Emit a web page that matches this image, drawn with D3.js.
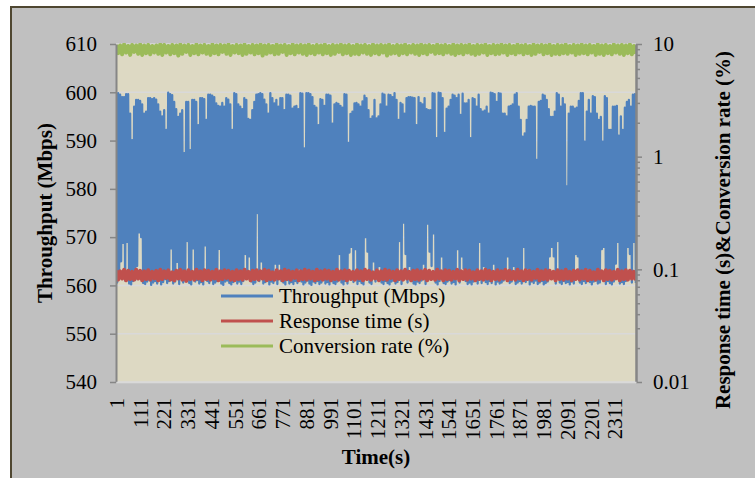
<!DOCTYPE html>
<html>
<head>
<meta charset="utf-8">
<script src="https://cdn.jsdelivr.net/npm/d3@7"></script>
<style>
body { margin: 0; background: #fff; }
svg { display: block; font-family: "Liberation Serif", "Times New Roman", serif; }
</style>
</head>
<body>
<svg id="chart" width="755" height="478"></svg>
<script>
// number of one-second samples on the category axis
var sampleCount = 2410;

var timeTicks = [1, 111, 221, 331, 441, 551, 661, 771, 881, 991, 1101, 1211, 1321,
                 1431, 1541, 1651, 1761, 1871, 1981, 2091, 2201, 2311];
var throughputTicks = [540, 550, 560, 570, 580, 590, 600, 610];
var rateTicks = [0.01, 0.1, 1, 10];
var legendLabels = ["Throughput (Mbps)", "Response time (s)", "Conversion rate (%)"];

// throughput: highs and lows, every ~2px of the plot
var throughputPeaks = [
  599.8,599.8,599.5,599.0,599.0,599.6,599.6,595.6,590.1,597.0,
  598.4,598.4,598.2,597.5,595.6,596.0,598.8,598.8,598.6,598.8,
  598.5,597.5,596.0,595.0,596.3,592.2,599.9,599.6,599.4,598.0,
  596.5,594.9,595.6,596.3,587.4,598.0,598.0,588.0,598.4,598.4,
  598.0,593.2,598.8,598.8,598.6,594.3,599.5,599.5,599.3,599.0,
  597.7,597.2,597.0,597.8,597.0,598.8,598.5,597.5,592.2,599.8,
  599.6,597.5,597.0,596.5,598.8,
  598.4,594.5,594.3,596.3,598.0,599.5,599.6,599.8,599.6,598.5,
  597.5,595.6,599.8,598.8,597.7,598.4,597.0,598.8,598.8,596.3,
  599.5,599.5,599.3,596.6,597.0,597.2,596.5,599.8,599.7,588.4,
  599.8,599.8,599.6,599.0,597.2,596.8,593.2,598.6,598.4,597.2,
  599.5,599.5,599.3,593.5,597.5,597.8,597.6,597.2,596.8,599.6,
  599.5,589.5,595.5,596.0,597.7,597.8,597.5,597.0,598.1,599.3,
  598.8,596.3,594.5,595.0,598.4,
  594.6,595.0,597.5,599.7,599.5,597.0,599.5,599.4,599.0,599.8,
  598.4,594.3,597.8,597.5,595.6,598.8,599.0,599.0,598.9,598.8,
  593.2,599.0,597.8,597.5,598.8,596.5,596.3,596.3,599.8,599.7,
  590.5,599.9,599.8,598.8,591.6,596.6,597.0,598.4,599.5,599.3,
  598.8,599.5,595.3,599.7,597.7,597.7,598.4,590.5,598.8,598.6,
  597.0,599.5,596.5,596.0,596.2,597.0,595.6,599.9,599.8,599.6,
  598.0,599.8,599.7,595.6,595.6,
  595.0,597.0,597.2,597.5,599.5,599.8,597.0,594.3,590.8,591.5,
  594.3,597.0,597.2,597.0,597.0,586.0,598.0,598.2,599.5,599.3,
  598.4,596.5,594.9,594.9,596.0,599.8,599.5,597.0,598.8,597.5,
  580.5,595.6,597.0,597.0,596.6,596.8,598.2,599.8,599.8,589.8,
  596.0,598.4,595.6,599.2,599.0,595.6,594.3,594.9,589.8,599.2,
  598.8,592.2,592.2,597.0,597.0,597.2,591.0,595.0,592.2,596.8,
  598.0,598.4,597.0,599.5,599.6
];
var throughputTroughs = [
  560.6,561.8,565.0,568.8,561.0,569.0,560.4,560.2,560.9,561.1,
  564.0,571.0,570.0,560.5,560.3,560.8,561.2,560.1,560.6,560.9,
  560.4,561.0,560.2,560.7,561.3,560.5,560.9,567.7,560.4,560.8,
  564.9,560.3,563.5,560.6,561.0,569.2,560.5,560.2,567.7,560.8,
  561.1,560.4,560.7,560.2,568.3,560.9,560.5,561.2,560.3,560.6,
  560.9,567.6,560.4,560.1,560.8,561.0,560.5,560.2,560.7,561.1,
  560.4,560.8,560.3,560.9,566.5,
  562.0,566.0,560.8,560.3,560.6,575.0,560.9,565.0,560.4,560.7,
  561.0,560.2,560.8,560.5,564.5,560.3,564.5,560.9,560.6,560.2,
  561.1,560.4,560.7,560.3,560.9,560.5,563.5,560.8,560.2,560.6,
  561.0,560.4,560.1,560.8,560.5,560.9,560.3,560.6,561.1,560.4,
  560.7,560.2,560.9,560.5,560.3,560.8,566.5,560.6,560.2,560.9,
  560.4,566.8,568.0,560.7,567.5,560.3,560.9,560.5,560.2,570.0,
  567.0,560.6,560.3,565.0,560.8,
  563.5,564.0,560.6,560.3,560.9,560.5,560.2,560.8,561.0,560.4,
  560.7,569.2,560.3,573.0,566.5,560.6,564.0,560.9,560.4,560.2,
  560.8,560.5,561.0,564.5,560.3,572.8,567.0,564.0,570.8,560.6,
  560.2,560.9,566.0,560.5,560.3,560.8,561.1,560.4,560.7,560.2,
  567.5,560.6,566.0,563.5,560.9,560.3,560.6,560.2,560.8,561.0,
  560.4,569.0,560.5,564.0,560.7,560.3,560.9,560.5,564.5,560.2,
  560.8,560.4,560.6,561.0,563.5,
  566.0,560.5,560.8,564.0,560.3,560.6,560.9,560.4,568.0,560.7,
  563.5,560.2,560.8,560.5,561.0,560.3,560.6,560.9,560.2,560.5,
  560.8,566.0,568.0,566.0,560.4,569.2,560.6,560.3,560.9,560.5,
  560.7,560.2,560.8,560.4,566.5,566.0,560.6,560.3,560.9,560.5,
  563.5,560.7,560.2,560.8,561.0,560.4,560.6,567.5,568.0,560.3,
  560.9,560.5,560.2,560.8,564.5,569.0,560.4,560.7,560.3,560.9,
  568.0,566.5,560.6,569.0,560.5
];

// response time (s), alternating highs and lows
var responseTime = [
  .098,.081,.096,.083,.099,.080,.097,.082,.095,.081,.099,.083,.097,.080,.096,.082,.098,.081,.095,.083,
  .097,.080,.099,.082,.096,.084,.098,.081,.094,.080,.097,.083,.099,.081,.096,.079,.098,.082,.095,.081,
  .099,.083,.096,.080,.098,.082,.097,.081,.095,.083,.099,.080,.096,.082,.098,.084,.097,.081,.095,.080,
  .098,.082,.096,.081,.099,.083,.095,.080,.097,.082,.098,.081,.096,.083,.099,.080,.097,.082,.094,.081,
  .098,.083,.096,.080,.099,.082,.097,.081,.095,.084,.098,.080,.096,.082,.099,.081,.097,.083,.095,.080,
  .099,.082,.096,.081,.098,.083,.097,.080,.095,.082,.099,.081,.096,.083,.098,.080,.097,.082,.095,.081,
  .098,.083,.096,.080,.099,.082,.097,.081,.094,.083,.098,.080,.096,.082,.099,.081,.097,.084,.095,.080,
  .098,.082,.096,.081,.099,.083,.095,.080,.097,.082,.098,.081,.096,.083,.099,.080,.097,.082,.095,.081,
  .099,.083,.096,.080,.098,.082,.097,.081,.095,.083,.099,.080,.096,.082,.098,.081,.097,.083,.094,.080,
  .098,.082,.096,.081,.099,.083,.097,.080,.095,.082,.098,.081,.096,.083,.099,.080,.097,.082,.095,.081,
  .099,.083,.096,.080,.098,.082,.097,.081,.095,.084,.099,.080,.096,.082,.098,.081,.097,.083,.095,.080,
  .098,.082,.096,.081,.099,.083,.095,.080,.097,.082,.098,.081,.096,.083,.099,.080,.097,.082,.094,.081,
  .099,.083,.096,.080,.098,.082,.097,.081,.095,.083,.099,.080,.096,.082,.098,.081,.097,.083,.095,.080
];

// conversion rate (%), alternating highs and lows
var conversionRate = [
  9.8,8.3,9.7,8.1,9.9,8.4,9.6,8.0,9.8,8.5,9.7,8.2,9.9,8.0,9.7,8.3,9.8,8.1,9.6,8.4,
  9.7,8.2,9.9,8.0,9.8,8.4,9.6,8.1,9.8,8.3,9.7,7.9,9.9,8.2,9.7,8.5,9.8,8.0,9.6,8.3,
  9.9,8.1,9.7,8.4,9.8,8.2,9.6,8.0,9.9,8.3,9.7,8.1,9.8,8.5,9.7,8.2,9.9,8.0,9.6,8.4,
  9.8,8.3,9.7,8.0,9.9,8.2,9.6,8.4,9.8,8.1,9.7,8.3,9.9,7.9,9.7,8.2,9.8,8.4,9.6,8.1,
  9.9,8.2,9.7,8.5,9.8,8.0,9.6,8.3,9.9,8.1,9.7,8.4,9.8,8.2,9.7,8.0,9.9,8.3,9.6,8.1,
  9.8,8.4,9.7,8.1,9.9,8.3,9.6,8.0,9.8,8.2,9.7,8.5,9.9,8.1,9.7,8.3,9.8,8.0,9.6,8.2,
  9.9,8.1,9.7,8.4,9.8,8.2,9.6,8.0,9.9,8.3,9.7,8.1,9.8,8.4,9.7,7.9,9.9,8.2,9.6,8.3,
  9.8,8.0,9.7,8.3,9.9,8.1,9.6,8.4,9.8,8.2,9.7,8.0,9.9,8.3,9.7,8.1,9.8,8.5,9.6,8.2,
  9.9,8.3,9.7,8.1,9.8,8.4,9.6,8.2,9.9,8.0,9.7,8.3,9.8,8.1,9.7,8.4,9.9,8.2,9.6,8.0,
  9.8,8.2,9.7,8.4,9.9,8.0,9.6,8.3,9.8,8.1,9.7,8.2,9.9,8.4,9.7,8.0,9.8,8.3,9.6,8.1,
  9.9,8.4,9.7,8.1,9.8,8.3,9.6,8.0,9.9,8.2,9.7,8.5,9.8,8.1,9.7,8.3,9.9,8.0,9.6,8.2,
  9.8,8.1,9.7,8.3,9.9,8.2,9.6,8.4,9.8,8.0,9.7,8.2,9.9,8.3,9.7,8.1,9.8,8.4,9.6,8.0,
  9.9,8.2,9.7,8.0,9.8,8.3,9.6,8.1,9.9,8.4,9.7,8.2,9.8,8.0,9.7,8.3,9.9,8.1,9.6,8.2
];

var colors = ["#4f81bd", "#c0504d", "#9bbb59"];

var svg = d3.select("#chart"),
    plot = {left: 116, right: 636, top: 44, bottom: 382};

// frame of the whole chart
svg.append("rect")
    .attr("x", 11).attr("y", 7)
    .attr("width", 800).attr("height", 500)
    .attr("fill", "#c0c0c0")
    .attr("stroke", "#4f4731")
    .attr("stroke-width", 2);

svg.append("rect")
    .attr("x", plot.left).attr("y", plot.top)
    .attr("width", plot.right - plot.left).attr("height", plot.bottom - plot.top)
    .attr("fill", "#ddd9c3");

var x = d3.scaleLinear().domain([0.5, sampleCount + 0.5]).range([plot.left, plot.right]);
var y = d3.scaleLinear().domain([540, 610]).range([plot.bottom, plot.top]);
var yr = d3.scaleLog().domain([0.01, 10]).range([plot.bottom, plot.top]);

// gridlines
svg.append("g")
    .selectAll("line")
    .data(throughputTicks)
    .enter().append("line")
    .attr("x1", plot.left).attr("x2", plot.right)
    .attr("y1", function(d) { return y(d); })
    .attr("y2", function(d) { return y(d); })
    .attr("stroke", "#d9d9d9")
    .attr("stroke-width", 1.5);

svg.append("clipPath").attr("id", "clip")
  .append("rect")
    .attr("x", plot.left).attr("y", plot.top - 1)
    .attr("width", plot.right - plot.left).attr("height", plot.bottom - plot.top + 1);

// sample times for a series of n values spread over the run
function timesFor(n) {
  return d3.range(n).map(function(i) { return 1 + i * (sampleCount - 1) / (n - 1); });
}

var throughput = [];
throughputPeaks.forEach(function(p, i) { throughput.push(p, throughputTroughs[i]); });

var series = [
  {values: throughput, scale: y, width: 2.3},
  {values: responseTime, scale: yr, width: 4},
  {values: conversionRate, scale: yr, width: 4}
];

var lines = svg.append("g").attr("clip-path", "url(#clip)");

series.forEach(function(s, k) {
  var t = timesFor(s.values.length);
  var line = d3.line()
      .x(function(d, i) { return x(t[i]); })
      .y(function(d) { return s.scale(d); });
  lines.append("path")
      .datum(s.values)
      .attr("fill", "none")
      .attr("stroke", colors[k])
      .attr("stroke-width", s.width)
      .attr("stroke-linejoin", "round")
      .attr("d", line);
});

// left axis
var leftAxis = svg.append("g")
    .attr("transform", "translate(" + plot.left + ",0)")
    .call(d3.axisLeft(y).tickValues(throughputTicks).tickSize(6).tickPadding(13).tickSizeOuter(0));

// right axis, with log minor ticks
var minorTicks = [];
[0.01, 0.1, 1].forEach(function(dec) {
  for (var m = 2; m <= 9; m++) minorTicks.push(dec * m);
});

svg.append("g")
    .attr("transform", "translate(" + plot.right + ",0)")
    .call(d3.axisRight(yr).tickValues(minorTicks).tickSize(4).tickFormat("").tickSizeOuter(0));

var rightAxis = svg.append("g")
    .attr("transform", "translate(" + plot.right + ",0)")
    .call(d3.axisRight(yr).tickValues(rateTicks).tickSize(6).tickPadding(11).tickSizeOuter(0)
          .tickFormat(function(d) { return String(d); }));

// bottom axis, labels turned on their side
var bottomAxis = svg.append("g")
    .attr("transform", "translate(0," + plot.bottom + ")")
    .call(d3.axisBottom(x).tickValues(timeTicks).tickSize(0).tickSizeOuter(0)
          .tickFormat(d3.format("d")));

bottomAxis.selectAll("text")
    .attr("transform", "rotate(-90)")
    .attr("x", -16)
    .attr("y", 0)
    .attr("dy", "0.35em")
    .attr("text-anchor", "end");

[leftAxis, rightAxis, bottomAxis].forEach(function(a) {
  a.selectAll("text")
      .attr("fill", "#000")
      .style("font-family", "Liberation Serif")
      .style("font-size", "21px");
});
svg.selectAll(".domain").attr("stroke", "#868686").attr("stroke-width", 2);
svg.selectAll(".tick line").attr("stroke", "#868686").attr("stroke-width", 1.5);
bottomAxis.select(".domain").attr("stroke", "#d9d9d9").attr("stroke-width", 1.5);

// axis titles
svg.append("text")
    .attr("transform", "translate(52,213) rotate(-90)")
    .attr("text-anchor", "middle")
    .style("font-size", "21px").style("font-weight", "bold")
    .text("Throughput (Mbps)");

svg.append("text")
    .attr("transform", "translate(730,230) rotate(-90)")
    .attr("text-anchor", "middle")
    .style("font-size", "21px").style("font-weight", "bold")
    .text("Response time (s)&Conversion rate (%)");

svg.append("text")
    .attr("x", 376).attr("y", 464)
    .attr("text-anchor", "middle")
    .style("font-size", "21px").style("font-weight", "bold")
    .text("Time(s)");

// legend
var legend = svg.append("g").attr("transform", "translate(221,296)");
var rows = legend.selectAll("g")
    .data(legendLabels)
    .enter().append("g")
    .attr("transform", function(d, i) { return "translate(0," + (i * 25) + ")"; });

rows.append("line")
    .attr("x1", 0).attr("x2", 52)
    .attr("stroke", function(d, i) { return colors[i]; })
    .attr("stroke-width", 3);

rows.append("text")
    .attr("x", 58)
    .attr("dy", "0.35em")
    .style("font-size", "21px")
    .text(function(d) { return d; });
</script>
</body>
</html>
